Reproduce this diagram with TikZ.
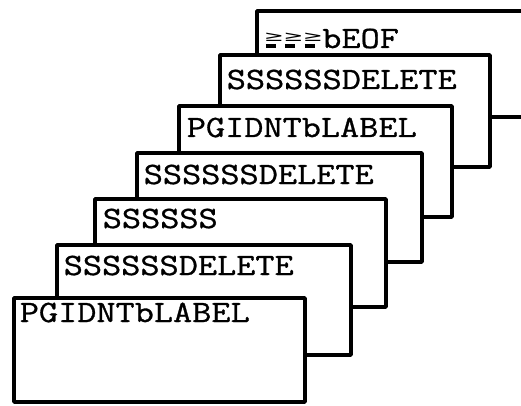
\documentclass[tikz,border=0pt]{standalone}
\usepackage{fontspec}
\setmonofont{Latin Modern Mono}[FakeStretch=1.2,FakeBold=1]
\newfontfamily\symfont{DejaVu Sans}
\usepackage{graphicx}
\newcommand\gebar{\makebox[19.5pt][l]{\raisebox{6pt}{\scalebox{1}[.6]{\symfont\fontsize{24}{24}\selectfont ≥}}}\llap{\makebox[19.5pt][l]{\hspace{2pt}\rule[0pt]{10pt}{4pt}}}}

\begin{document}
\begin{tikzpicture}[x=1pt,y=-1pt,line width=3.6pt,font=\fontsize{31}{31}\ttfamily]
\tikzset{card/.style={draw,fill=white,line join=round},cardtext/.style={anchor=base west,inner sep=0pt}}
\useasboundingbox (0,0) rectangle (521,406);
\clip (0,0) rectangle (521,406);
% the cards, from the back to the front
\draw[card] (257,11) rectangle (560,117);\node[cardtext] (eof) at (262,48) {\gebar\gebar\gebar bEOF};
\draw[card] (220,55) rectangle (490,167);\node[cardtext] (delc) at (225,89) {SSSSSSDELETE};
\draw[card] (179,106) rectangle (452,217);\node[cardtext] (labelb) at (185,137) {PGIDNTbLABEL};
\draw[card] (137,153) rectangle (422,262);\node[cardtext] (delb) at (142,184) {SSSSSSDELETE};
\draw[card] (95,199) rectangle (386,307);\node[cardtext] (blank) at (101,228) {SSSSSS};
\draw[card] (57,245) rectangle (351,355);\node[cardtext] (dela) at (62,275) {SSSSSSDELETE};
\draw[card] (14,298) rectangle (305,402);\node[cardtext] (labela) at (18,322) {PGIDNTbLABEL};
\end{tikzpicture}
\end{document}
